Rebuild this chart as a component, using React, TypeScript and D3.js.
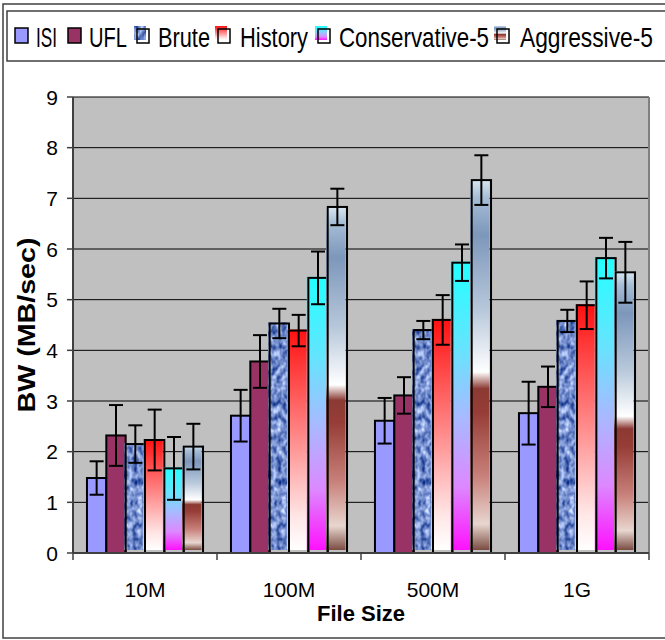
import React from 'react';
import * as d3 from 'd3';

const categories = ['10M', '100M', '500M', '1G'];
const seriesNames = ['ISI', 'UFL', 'Brute', 'History', 'Conservative-5', 'Aggressive-5'];
const isiValues = [1.48, 2.71, 2.61, 2.76];
const isiErrors = [0.33, 0.51, 0.45, 0.62];
const uflValues = [2.32, 3.78, 3.11, 3.28];
const uflErrors = [0.6, 0.52, 0.36, 0.4];
const bruteValues = [2.15, 4.53, 4.4, 4.58];
const bruteErrors = [0.37, 0.29, 0.18, 0.22];
const historyValues = [2.23, 4.39, 4.6, 4.89];
const historyErrors = [0.6, 0.31, 0.49, 0.47];
const conservativeValues = [1.67, 5.43, 5.73, 5.82];
const conservativeErrors = [0.62, 0.52, 0.36, 0.4];
const aggressiveValues = [2.1, 6.83, 7.36, 5.54];
const aggressiveErrors = [0.45, 0.36, 0.49, 0.6];
const yTicks = [0, 1, 2, 3, 4, 5, 6, 7, 8, 9];

const seriesValues = [isiValues, uflValues, bruteValues, historyValues, conservativeValues, aggressiveValues];
const seriesErrors = [isiErrors, uflErrors, bruteErrors, historyErrors, conservativeErrors, aggressiveErrors];
const seriesFill = ['#9999ff', '#993366', '#7090cc', 'url(#gHistory)', 'url(#gCons)', 'url(#gAggr)'];
const seriesOffset = [false, false, true, true, true, true];

const W = 665, H = 640;
const plot = { left: 73, right: 649, top: 97, bottom: 553 };
const FONT = 'Liberation Sans, Arial, sans-serif';

export default function App() {
  const x = d3.scaleBand<string>().domain(categories).range([plot.left, plot.right]).padding(0);
  const cw = x.bandwidth();
  const groupPad = cw * 0.097;
  const xs = d3.scaleBand<string>().domain(seriesNames).range([groupPad, cw - groupPad]).padding(0);
  const y = d3.scaleLinear().domain([0, 9]).range([plot.bottom, plot.top]);
  const bw = xs.bandwidth();

  const legendItems = [
    { icon: 15, tx: 36, tw: 21 },
    { icon: 68, tx: 89, tw: 38 },
    { icon: 137, tx: 158, tw: 52 },
    { icon: 218, tx: 240, tw: 68 },
    { icon: 318, tx: 339, tw: 150 },
    { icon: 497, tx: 520, tw: 133 },
  ];
  const legendBase = 47;

  return (
    <svg width={W} height={H} style={{ position: 'absolute', left: 0, top: 0, background: '#fff' }} fontFamily={FONT}>
      <defs>
        <linearGradient id="gHistory" x1="0" y1="0" x2="0" y2="1">
          <stop offset="0" stopColor="#ff1010" />
          <stop offset="0.5" stopColor="#ff8c8c" />
          <stop offset="0.85" stopColor="#ffe6e6" />
          <stop offset="1" stopColor="#ffffff" />
        </linearGradient>
        <linearGradient id="gCons" x1="0" y1="0" x2="0" y2="1">
          <stop offset="0" stopColor="#22ffff" />
          <stop offset="0.3" stopColor="#66e4ff" />
          <stop offset="0.55" stopColor="#aab8ff" />
          <stop offset="0.78" stopColor="#dd88ff" />
          <stop offset="1" stopColor="#ff11ff" />
        </linearGradient>
        <linearGradient id="gAggr" x1="0" y1="0" x2="0" y2="1">
          <stop offset="0" stopColor="#dde9f3" />
          <stop offset="0.05" stopColor="#a6bdd6" />
          <stop offset="0.15" stopColor="#7d97bb" />
          <stop offset="0.35" stopColor="#b6c7da" />
          <stop offset="0.52" stopColor="#ffffff" />
          <stop offset="0.565" stopColor="#8b3a33" />
          <stop offset="0.63" stopColor="#973d37" />
          <stop offset="0.8" stopColor="#c8807a" />
          <stop offset="0.93" stopColor="#e8d6cf" />
          <stop offset="1" stopColor="#7a4c42" />
        </linearGradient>
        <filter id="fWater" x="0" y="0" width="1" height="1" filterUnits="objectBoundingBox" colorInterpolationFilters="sRGB">
          <feTurbulence type="fractalNoise" baseFrequency="0.2 0.14" numOctaves="2" seed="4" result="noise" />
          <feColorMatrix in="noise" type="matrix"
            values="1.2 0 0 0 -0.15  1.1 0 0 0 0.0  0.8 0 0 0 0.4  0 0 0 0 1" result="col" />
          <feComposite in="col" in2="SourceGraphic" operator="in" />
        </filter>
      </defs>

      {/* outer chart border */}
      <rect x={3} y={4} width={720} height={634} fill="#fff" stroke="#404040" strokeWidth={1.5} />
      {/* legend */}
      <rect x={7} y={11} width={720} height={50} fill="#fff" stroke="#404040" strokeWidth={1.5} />
      {seriesNames.map((name, i) => {
        const it = legendItems[i];
        const iy = 29;
        return (
          <g key={name}>
            {seriesOffset[i] ? (
              <>
                <rect x={it.icon - 3} y={iy - 3} width={12} height={14} fill={seriesFill[i]} filter={i === 2 ? 'url(#fWater)' : undefined} />
                <rect x={it.icon} y={iy} width={12} height={14} fill="none" stroke="#000" strokeWidth={1.5} />
              </>
            ) : (
              <rect x={it.icon} y={iy - 1} width={13} height={15} fill={seriesFill[i]} stroke="#000" strokeWidth={1.5} />
            )}
            <text transform={`translate(${it.tx},${legendBase}) scale(1,1.25)`} fontSize={22} textLength={it.tw} lengthAdjust="spacingAndGlyphs" fill="#000">{name}</text>
          </g>
        );
      })}

      {/* plot area */}
      <rect x={plot.left} y={plot.top} width={plot.right - plot.left} height={plot.bottom - plot.top} fill="#c0c0c0" />
      {yTicks.map((t) => (
        <g key={t}>
          {t > 0 && <line x1={plot.left} x2={plot.right} y1={y(t)} y2={y(t)} stroke="#000" strokeWidth={1} />}
          <line x1={plot.left - 6} x2={plot.left} y1={y(t)} y2={y(t)} stroke="#404040" strokeWidth={1.5} />
          <text x={58} y={y(t)} dy="0.36em" textAnchor="end" fontSize={21} fill="#000">{t}</text>
        </g>
      ))}
      <line x1={plot.right} x2={plot.right} y1={plot.top} y2={plot.bottom} stroke="#808080" strokeWidth={2} />

      {/* bars */}
      {categories.map((c, ci) => (
        <g key={c} transform={`translate(${x(c)},0)`}>
          {seriesNames.map((s, si) => {
            const v = seriesValues[si][ci];
            const bx = xs(s)!;
            const top = y(v);
            const h = y(0) - top;
            return (
              <g key={s}>
                {seriesOffset[si] ? (
                  <>
                    <rect x={bx - 1.5} y={top - 1} width={bw} height={h - 2} fill={seriesFill[si]} filter={si === 2 ? 'url(#fWater)' : undefined} />
                    <rect x={bx} y={top} width={bw} height={h} fill="none" stroke="#000" strokeWidth={2} />
                  </>
                ) : (
                  <rect x={bx} y={top} width={bw} height={h} fill={seriesFill[si]} stroke="#000" strokeWidth={2} />
                )}
              </g>
            );
          })}
        </g>
      ))}

      {/* error bars */}
      {categories.map((c, ci) => (
        <g key={c + 'e'} transform={`translate(${x(c)},0)`}>
          {seriesNames.map((s, si) => {
            const v = seriesValues[si][ci];
            const e = seriesErrors[si][ci];
            const cx = xs(s)! + bw / 2;
            return (
              <g key={s} stroke="#000" strokeWidth={2}>
                <line x1={cx} x2={cx} y1={y(v + e)} y2={y(v - e)} />
                <line x1={cx - 7} x2={cx + 7} y1={y(v + e)} y2={y(v + e)} />
                <line x1={cx - 7} x2={cx + 7} y1={y(v - e)} y2={y(v - e)} />
              </g>
            );
          })}
        </g>
      ))}

      {/* axes */}
      <line x1={plot.left} x2={plot.left} y1={plot.top} y2={plot.bottom} stroke="#404040" strokeWidth={2} />
      <line x1={plot.left} x2={plot.right} y1={plot.bottom} y2={plot.bottom} stroke="#404040" strokeWidth={2} />
      {[...categories.map((c) => x(c)!), plot.right].map((px, i) => (
        <line key={i} x1={px} x2={px} y1={plot.bottom} y2={plot.bottom + 7} stroke="#404040" strokeWidth={1.5} />
      ))}
      {categories.map((c) => (
        <text key={c} x={x(c)! + cw / 2} y={597} textAnchor="middle" fontSize={21} fill="#000">{c}</text>
      ))}
      <text x={361} y={621} textAnchor="middle" fontSize={22} fontWeight="bold" fill="#000">File Size</text>
      <text transform={`translate(35,${(plot.top + plot.bottom) / 2}) rotate(-90)`} textAnchor="middle" fontSize={24} fontWeight="bold" textLength={175} lengthAdjust="spacingAndGlyphs" fill="#000">BW (MB/sec)</text>
    </svg>
  );
}
